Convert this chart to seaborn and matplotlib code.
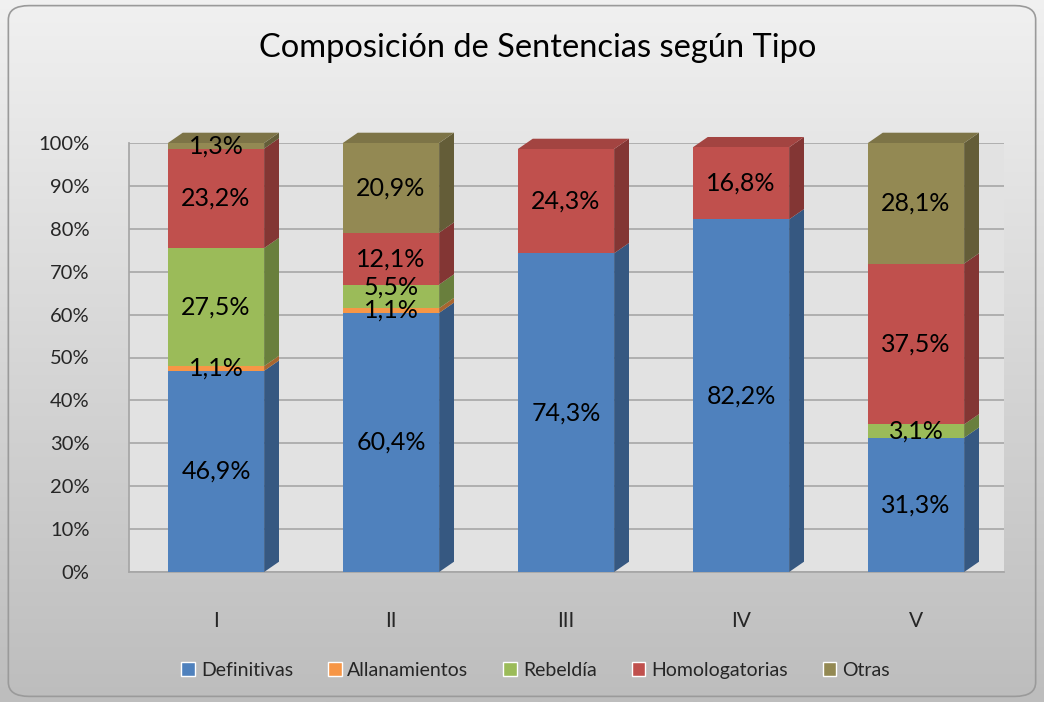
import numpy as np
import pandas as pd
import seaborn as sns
import matplotlib.pyplot as plt
from matplotlib.patches import Polygon, FancyBboxPatch

# Data
categorias = ['I', 'II', 'III', 'IV', 'V']
definitivas = [46.9, 60.4, 74.3, 82.2, 31.3]
allanamientos = [1.1, 1.1, 0.0, 0.0, 0.0]
rebeldia = [27.5, 5.5, 0.0, 0.0, 3.1]
homologatorias = [23.2, 12.1, 24.3, 16.8, 37.5]
otras = [1.3, 20.9, 0.0, 0.0, 28.1]

series = ['Definitivas', 'Allanamientos', 'Rebeldía', 'Homologatorias', 'Otras']
valores = [definitivas, allanamientos, rebeldia, homologatorias, otras]
colores = ['#4F81BD', '#F79646', '#9BBB59', '#C0504D', '#938953']

df = pd.DataFrame({s: v for s, v in zip(series, valores)}, index=categorias)

sns.set_theme(style='white')
plt.rcParams['font.family'] = ['Lato', 'DejaVu Sans']

fig = plt.figure(figsize=(10.44, 7.02), dpi=100)

# background gradient with rounded frame
bg = fig.add_axes([0, 0, 1, 1], zorder=-10)
grad = np.linspace(1, 0, 256).reshape(-1, 1)
bg.imshow(grad, aspect='auto', cmap=sns.light_palette('#bdbdbd', as_cmap=True, reverse=True),
          extent=[0, 1, 0, 1], vmin=0, vmax=1)
bg.add_patch(FancyBboxPatch((0.008, 0.008), 0.984, 0.984, boxstyle='round,pad=0,rounding_size=0.02',
                            fill=False, ec='#9a9a9a', lw=1.2, transform=bg.transAxes))
bg.set_xlim(0, 1)
bg.set_ylim(0, 1)
bg.axis('off')

ax = fig.add_axes([128.5 / 1044, 130 / 702, 875 / 1044, 429 / 702])
ax.set_facecolor('#e2e2e2')

depth_x = 0.085
depth_y = 2.4
bottom = np.zeros(len(categorias))
for s, c in zip(series, colores):
    vals = df[s].values
    sns.barplot(x=categorias, y=vals, bottom=bottom, color=c, width=0.55,
                ax=ax, zorder=3, saturation=1, edgecolor='none', linewidth=0)
    bottom = bottom + vals

# 3D side faces, top faces and labels from the drawn bars
tops = {}
last_label = {}
for patch in ax.patches:
    x0, y0 = patch.get_x(), patch.get_y()
    w, h = patch.get_width(), patch.get_height()
    if h <= 0:
        continue
    col = np.array(patch.get_facecolor()[:3])
    side = Polygon([(x0 + w, y0), (x0 + w, y0 + h), (x0 + w + depth_x, y0 + h + depth_y),
                    (x0 + w + depth_x, y0 + depth_y)], closed=True,
                   fc=col * 0.68, ec='none', zorder=2.9, clip_on=False)
    ax.add_patch(side)
    key = round(x0, 3)
    if key not in tops or y0 + h > tops[key][1]:
        tops[key] = (x0, y0 + h, w, col)
    ly = y0 + h / 2
    if key in last_label and ly - last_label[key] < 5.5:
        ly = last_label[key] + 5.5
    last_label[key] = ly
    txt = f'{h:.1f}'.replace('.', ',') + '%'
    ax.text(x0 + w / 2, ly, txt, ha='center', va='center',
            fontsize=18, color='black', zorder=6, clip_on=False)

for x0, top, w, col in tops.values():
    tp = Polygon([(x0, top), (x0 + w, top), (x0 + w + depth_x, top + depth_y),
                  (x0 + depth_x, top + depth_y)], closed=True,
                 fc=np.clip(col * 0.85, 0, 1), ec='none', zorder=2.95, clip_on=False)
    ax.add_patch(tp)

ax.set_ylim(0, 100)
ax.set_xlim(-0.5, 4.5)
ax.set_yticks(np.arange(0, 101, 10))
ax.set_yticklabels([f'{v}%' for v in range(0, 101, 10)], fontsize=14.5)
ax.tick_params(axis='x', labelsize=15, pad=28, length=0)
ax.tick_params(axis='y', pad=28, length=0)
ax.yaxis.grid(True, color='#a6a6a6', lw=1.2, zorder=0)
ax.set_axisbelow(True)
for sp in ax.spines.values():
    sp.set_visible(False)
ax.spines['bottom'].set_visible(True)
ax.spines['bottom'].set_color('#a6a6a6')
ax.spines['left'].set_visible(True)
ax.spines['left'].set_color('#a6a6a6')

fig.text(0.515, 0.932, 'Composición de Sentencias según Tipo', ha='center', va='center',
         fontsize=23.5, color='black')

handles = [plt.Rectangle((0, 0), 1, 1, fc=c) for c in colores]
fig.legend(handles, series, loc='center', bbox_to_anchor=(0.513, 0.045), ncol=5,
           frameon=False, fontsize=14, handlelength=0.7, handleheight=0.7,
           handletextpad=0.3, columnspacing=1.8)

fig.savefig('out.png', dpi=100)
